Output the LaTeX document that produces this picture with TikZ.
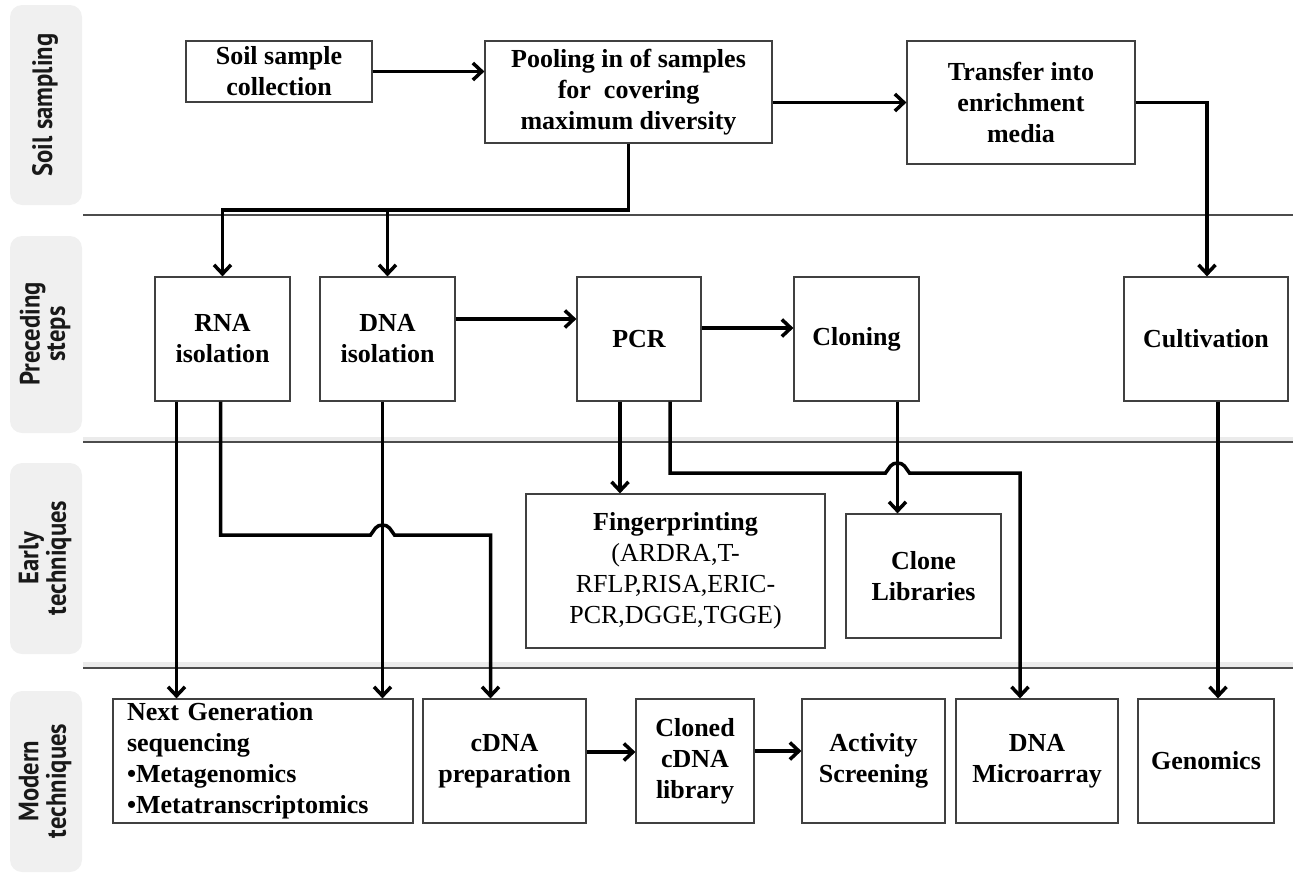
\documentclass[tikz,border=0pt]{standalone}
\usepackage{fontspec}
\usepackage{graphicx}
\setmainfont{Liberation Serif}
\newfontfamily\bandfont{PT Sans}
\usetikzlibrary{arrows.meta,calc}
\newcommand\mybox[7][]{\node[box,#1, minimum width={#5-#3}, minimum height={#6-#4}] (#2) at ({(#3+#5)/2},{(#4+#6)/2}) {#7};}
\newcommand\bandlabel[3]{\node[bandtxt] (#1) at (46,#2) {\scalebox{0.88}[1]{\begin{tabular}{@{}c@{}}#3\end{tabular}}};}
\begin{document}
\begin{tikzpicture}[x=1pt,y=-1pt,
 box/.style={draw=black!75, line width=1.2, inner sep=0, align=center,
   font=\bfseries\fontsize{26}{31}\selectfont},
 band/.style={fill=black!6, rounded corners=12},
 bandtxt/.style={rotate=90, inner sep=0, text=black!90,
   font=\bandfont\bfseries\fontsize{28}{25}\selectfont},
 arr/.style={line width=3.5, -{Straight Barb[length=9,width=17]}},
 divider/.style={draw=black!70, line width=1.2},
 shade/.style={draw=black!8, line width=5}]

\useasboundingbox (0,0) rectangle (1293,878);

% bands
\fill[band] (10,5) rectangle (82,205);
\fill[band] (10,236) rectangle (82,433);
\fill[band] (10,463) rectangle (82,654);
\fill[band] (10,691) rectangle (82,872);
\bandlabel{b1}{105}{Soil sampling}
\bandlabel{b2}{334}{Preceding\\steps}
\bandlabel{b3}{558}{Early\\techniques}
\bandlabel{b4}{781}{Modern\\techniques}

% dividers
\draw[shade] (83,439) -- (1293,439);
\draw[shade] (83,664) -- (1293,664);
\draw[divider] (83,215) -- (1293,215);
\draw[divider] (83,442) -- (1293,442);
\draw[divider] (83,668) -- (1293,668);

% boxes
\mybox{soil}{186}{41}{372}{102}{Soil sample\\collection}
\mybox{pool}{485}{41}{772}{143}{Pooling in of samples\\for~~covering\\maximum diversity}
\mybox{transfer}{907}{41}{1135}{164}{Transfer into\\enrichment\\media}
\mybox{rna}{155}{277}{290}{401}{RNA\\isolation}
\mybox{dna}{320}{277}{455}{401}{DNA\\isolation}
\mybox{pcr}{577}{277}{701}{401}{PCR}
\mybox{cloning}{794}{277}{919}{401}{Cloning}
\mybox{cult}{1124}{277}{1288}{401}{Cultivation}
\mybox{finger}{526}{494}{825}{648}{Fingerprinting\\\mdseries(ARDRA,T-\\\mdseries RFLP,RISA,ERIC-\\\mdseries PCR,DGGE,TGGE)}
\mybox{clonelib}{846}{514}{1001}{638}{Clone\\Libraries}
\mybox[align=left, text width=272]{ngs}{113}{699}{413}{823}{Next Generation\\sequencing\\•Metagenomics\\•Metatranscriptomics}
\mybox{cdna}{423}{699}{586}{823}{cDNA\\preparation}
\mybox{cloned}{636}{699}{754}{823}{Cloned\\cDNA\\library}
\mybox{activity}{802}{699}{945}{823}{Activity\\Screening}
\mybox{micro}{956}{699}{1118}{823}{DNA\\Microarray}
\mybox{genomics}{1138}{699}{1274}{823}{Genomics}

% connectors
\draw[arr] (soil.east) -- (soil.east -| pool.west);
\draw[arr] (pool.east |- transfer.west) -- (transfer.west);
\draw[arr] (transfer.east) -| ([xshift=1]cult.north);

\coordinate (j) at (0,210);
\draw[arr] (pool.south) |- (j -| rna.north) -- (rna.north);
\draw[arr] (j -| dna.north) -- (dna.north);

\draw[arr] ([yshift=20]dna.east) -- ([yshift=20]dna.east -| pcr.west);
\draw[arr] ([yshift=11]pcr.east) -- ([yshift=11]pcr.east -| cloning.west);

\coordinate (r1) at ([xshift=-46]rna.south);
\coordinate (r2) at ([xshift=-2]rna.south);
\coordinate (d1) at ([xshift=-5]dna.south);
\coordinate (c1) at ([xshift=-14]cdna.north);
\draw[arr] (r1) -- (r1 |- ngs.north);
\draw[arr] (d1) -- (d1 |- ngs.north);
\coordinate (x1) at (d1 |- 0,535);
\draw[arr] (r2) -- (r2 |- x1) -- ($(x1)+(-12,0)$) -- ($(x1)+(-7,-7)$)
  .. controls ($(x1)+(-4,-11)$) and ($(x1)+(4,-11)$) .. ($(x1)+(7,-7)$)
  -- ($(x1)+(12,0)$) -- (x1 -| c1) -- (c1);

\draw[arr] ([xshift=-19]pcr.south) -- ([xshift=-19]pcr.south |- finger.north);
\coordinate (p2) at ([xshift=31]pcr.south);
\coordinate (cl) at ([xshift=41]cloning.south);
\coordinate (m1) at ([xshift=-17]micro.north);
\coordinate (x2) at (cl |- 0,473);
\draw[arr] (p2) -- (p2 |- x2) -- ($(x2)+(-12,0)$) -- ($(x2)+(-7,-7)$)
  .. controls ($(x2)+(-4,-11)$) and ($(x2)+(4,-11)$) .. ($(x2)+(7,-7)$)
  -- ($(x2)+(12,0)$) -- (x2 -| m1) -- (m1);
\draw[arr] (cl) -- (cl |- clonelib.north);
\draw[arr] ([xshift=12]cult.south) -- ([xshift=12]cult.south |- genomics.north);

\draw[arr] ([yshift=9]cdna.east) -- ([yshift=9]cdna.east -| cloned.west);
\draw[arr] ([yshift=10]cloned.east) -- ([yshift=10]cloned.east -| activity.west);
\end{tikzpicture}
\end{document}
